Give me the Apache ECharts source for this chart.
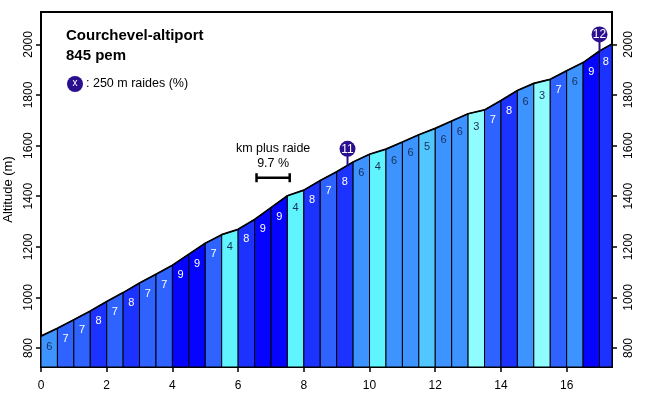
<!DOCTYPE html>
<html><head><meta charset="utf-8">
<script src="https://cdn.jsdelivr.net/npm/echarts@6/dist/echarts.min.js"></script>
<style>html,body{margin:0;padding:0;background:#fff}#c{width:651px;height:395px}</style>
</head><body><div id="c"></div>
<script>
// distance (km) of each profile point
const km = [0,0.5,1,1.5,2,2.5,3,3.5,4,4.5,5,5.5,6,6.5,7,7.5,8,8.5,9,9.5,10,10.5,11,11.5,12,12.5,13,13.5,14,14.5,15,15.5,16,16.5,17,17.38];
// altitude (m) at each profile point
const altitude = [847,878,912,946,984,1019,1057,1092,1127,1171,1214,1248,1269,1308,1355,1402,1424,1462,1497,1535,1566,1586,1614,1643,1668,1697,1726,1741,1778,1818,1846,1862,1896,1928,1974,2002];
// rounded grade (%) of each 500 m segment
const grades = [6,7,7,8,7,8,7,7,9,9,7,4,8,9,9,4,8,7,8,6,4,6,6,5,6,6,3,7,8,6,3,7,6,9,8];
// steepest 250 m markers: km, altitude, label
const markerKm = [9.33, 17.0];
const markerAlt = [1522, 1974];
const markerLabel = ['11', '12'];
// steepest km
const steepKm = [6.56, 7.57];
const steepPct = 9.7;
const yTicks = [800,1000,1200,1400,1600,1800,2000];
const xTicks = [0,2,4,6,8,10,12,14,16];
const title = 'Courchevel-altiport';
const subtitle = '845 pem';
const legendText = ': 250 m raides (%)';

const Y_MIN = 725, Y_MAX = 2128, X_MAX = 17.38;
const FONT = '"Liberation Sans", Arial, sans-serif';
const gradeColor = {3:'#8ffcff',4:'#60f4ff',5:'#52c6ff',6:'#3d93ff',7:'#2e63ff',8:'#1c33ff',9:'#0505ff'};
const markColor = '#2a0f8f';

const segData = grades.map((g,i)=>[km[i], km[i+1], altitude[i], altitude[i+1], g]);
const profile = km.map((k,i)=>[k, altitude[i]]);
const markers = markerKm.map((k,i)=>[k, markerAlt[i], markerLabel[i]]);

const chart = echarts.init(document.getElementById('c'), null, {renderer:'canvas'});
const axisCommon = {
  axisLine:{show:true, lineStyle:{color:'#000', width:2}},
  axisTick:{show:true, length:5, lineStyle:{color:'#000', width:1.5}},
  splitLine:{show:false}
};
const plain = v => String(v);
chart.setOption({
  animation:false,
  backgroundColor:'#fff',
  grid:{left:41, top:12, right:39, bottom:28, show:true, borderColor:'#000', borderWidth:2,
    containLabel:false, outerBoundsMode:'none'},
  xAxis:{type:'value', min:0, max:X_MAX, ...axisCommon,
    axisTick:{...axisCommon.axisTick, customValues:xTicks},
    axisLabel:{customValues:xTicks, formatter:plain, color:'#000', fontSize:12, fontFamily:FONT, margin:13}},
  yAxis:[
    {type:'value', min:Y_MIN, max:Y_MAX, position:'left', ...axisCommon,
      axisTick:{...axisCommon.axisTick, customValues:yTicks},
      axisLabel:{customValues:yTicks, formatter:plain, rotate:90, color:'#000', fontSize:12, fontFamily:FONT, margin:6},
      name:'Altitude (m)', nameLocation:'middle', nameGap:21,
      nameTextStyle:{color:'#000', fontSize:13, fontFamily:FONT}},
    {type:'value', min:Y_MIN, max:Y_MAX, position:'right', ...axisCommon,
      axisTick:{...axisCommon.axisTick, customValues:yTicks},
      axisLabel:{customValues:yTicks, formatter:plain, rotate:90, color:'#000', fontSize:12, fontFamily:FONT, margin:11}}
  ],
  series:[
    {type:'custom', data:segData, encode:{x:[0,1], y:[2,3]}, z:2, clip:true,
      renderItem:function(params, api){
        const x0=api.value(0), x1=api.value(1), e0=api.value(2), e1=api.value(3), g=api.value(4);
        const p0=api.coord([x0,e0]), p1=api.coord([x1,e1]);
        const b0=api.coord([x0,Y_MIN]), b1=api.coord([x1,Y_MIN]);
        return {type:'group', children:[
          {type:'polygon', shape:{points:[b0,p0,p1,b1]}, style:{fill:gradeColor[g], stroke:'#000', lineWidth:1}},
          {type:'text', x:(p0[0]+p1[0])/2, y:(p0[1]+p1[1])/2+15, z2:5,
            style:{text:String(g), fill: g>=7 ? '#ffffff' : '#1b2f55', font:'11px '+FONT, align:'center', verticalAlign:'middle'}}
        ]};
      }},
    {type:'line', data:profile, symbol:'none', z:3, lineStyle:{color:'#000', width:1.7}, silent:true},
    {type:'custom', data:markers, encode:{x:0, y:1}, z:4, clip:false,
      renderItem:function(params, api){
        const p=api.coord([api.value(0), api.value(1)]);
        const lbl = markerLabel[params.dataIndex];
        return {type:'group', children:[
          {type:'line', shape:{x1:p[0], y1:p[1], x2:p[0], y2:p[1]-12}, style:{stroke:markColor, lineWidth:2}},
          {type:'circle', shape:{cx:p[0], cy:p[1]-16.5, r:8}, style:{fill:markColor}},
          {type:'text', x:p[0], y:p[1]-16, style:{text:lbl, fill:'#fff', font:'12px '+FONT, align:'center', verticalAlign:'middle'}}
        ]};
      }},
    {type:'custom', data:[[steepKm[0], steepKm[1]]], encode:{x:[0,1]}, z:4, clip:false,
      renderItem:function(params, api){
        const a=api.coord([api.value(0), 1473]), b=api.coord([api.value(1), 1473]);
        const y=a[1], mx=(a[0]+b[0])/2;
        return {type:'group', children:[
          {type:'line', shape:{x1:a[0], y1:y, x2:b[0], y2:y}, style:{stroke:'#000', lineWidth:2.5}},
          {type:'line', shape:{x1:a[0], y1:y-4.5, x2:a[0], y2:y+4.5}, style:{stroke:'#000', lineWidth:2.5}},
          {type:'line', shape:{x1:b[0], y1:y-4.5, x2:b[0], y2:y+4.5}, style:{stroke:'#000', lineWidth:2.5}},
          {type:'text', x:mx, y:y-29.5, style:{text:'km plus raide', fill:'#000', font:'12.5px '+FONT, align:'center', verticalAlign:'middle'}},
          {type:'text', x:mx, y:y-14.5, style:{text:steepPct.toFixed(1)+' %', fill:'#000', font:'12.5px '+FONT, align:'center', verticalAlign:'middle'}}
        ]};
      }}
  ],
  graphic:[
    {type:'text', x:66, y:36, style:{text:title, fill:'#000', font:'bold 15px '+FONT, verticalAlign:'middle'}},
    {type:'text', x:66, y:56, style:{text:subtitle, fill:'#000', font:'bold 15px '+FONT, verticalAlign:'middle'}},
    {type:'circle', shape:{cx:75, cy:84, r:8}, style:{fill:markColor}},
    {type:'text', x:75, y:83.5, style:{text:'x', fill:'#fff', font:'10px '+FONT, align:'center', verticalAlign:'middle'}},
    {type:'text', x:86, y:84, style:{text:legendText, fill:'#000', font:'12.5px '+FONT, verticalAlign:'middle'}}
  ]
});
</script>
</body></html>
